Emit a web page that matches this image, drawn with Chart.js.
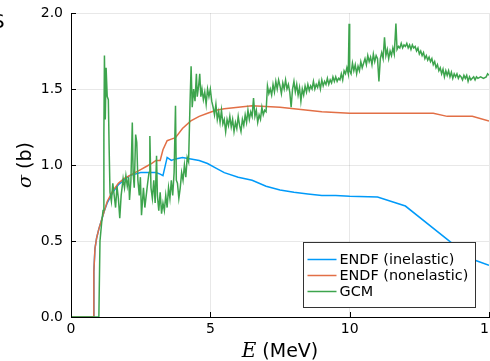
<!DOCTYPE html>
<html>
<head>
<meta charset="utf-8">
<script src="https://cdn.jsdelivr.net/npm/chart.js@4"></script>
<style>
  html, body { margin: 0; padding: 0; background: #fff; overflow: hidden; }
  #wrap { width: 490px; height: 361px; }
</style>
</head>
<body>
<div id="wrap"><canvas id="chart" width="490" height="361"></canvas></div>
<script>
// ENDF inelastic cross section (b) vs energy (MeV)
const inelasticEnergy = [0, 0.8, 0.82, 0.86, 0.92, 1.0, 1.1, 1.2, 1.3, 1.5, 1.7, 1.9, 2.1, 2.3, 2.5, 2.7, 2.9, 3.05, 3.2, 3.3, 3.45, 3.6, 3.75, 4.0, 4.3, 4.6, 4.9, 5.2, 5.5, 6.0, 6.5, 7.0, 7.5, 8.0, 8.5, 9.0, 9.5, 10, 11, 12, 14.4, 15];
const inelasticSigma  = [0, 0, 0.3, 0.45, 0.52, 0.58, 0.64, 0.7, 0.75, 0.82, 0.87, 0.9, 0.93, 0.94, 0.95, 0.95, 0.95, 0.95, 0.94, 0.93, 1.05, 1.03, 1.04, 1.05, 1.04, 1.03, 1.01, 0.98, 0.95, 0.92, 0.9, 0.86, 0.835, 0.82, 0.81, 0.8, 0.8, 0.795, 0.79, 0.73, 0.38, 0.34];

// ENDF nonelastic
const nonelasticEnergy = [0, 0.8, 0.82, 0.86, 0.92, 1.0, 1.1, 1.2, 1.3, 1.5, 1.7, 1.9, 2.1, 2.3, 2.5, 2.7, 2.9, 3.05, 3.2, 3.3, 3.45, 3.6, 3.75, 4.0, 4.3, 4.6, 4.9, 5.2, 5.5, 6.0, 6.5, 7.0, 7.5, 8.0, 8.5, 9.0, 9.5, 10, 11, 12, 13, 13.5, 14.4, 15];
const nonelasticSigma  = [0, 0, 0.3, 0.45, 0.52, 0.58, 0.64, 0.7, 0.76, 0.83, 0.88, 0.91, 0.93, 0.95, 0.97, 0.99, 1.01, 1.03, 1.03, 1.1, 1.16, 1.17, 1.18, 1.24, 1.29, 1.32, 1.34, 1.36, 1.37, 1.38, 1.39, 1.385, 1.38, 1.37, 1.36, 1.35, 1.345, 1.34, 1.34, 1.34, 1.34, 1.32, 1.32, 1.29];

// GCM calculation, [E, sigma]
const gcmPoints = [
  [0, 0], [1.0, 0], [1.04, 0.5], [1.1, 0.62], [1.15, 0.7], [1.18, 1.2], [1.2, 1.72], [1.23, 1.3], [1.26, 1.64], [1.3, 1.45],
  [1.34, 1.43], [1.37, 1.1], [1.4, 0.82], [1.45, 0.76], [1.5, 0.88], [1.55, 0.8], [1.6, 0.72], [1.65, 0.86], [1.7, 0.78], [1.75, 0.65],
  [1.8, 0.8], [1.87, 0.91], [1.92, 0.85], [1.97, 0.93], [2.02, 0.86], [2.07, 0.92], [2.1, 0.77], [2.15, 0.9], [2.2, 1.28], [2.23, 0.95],
  [2.27, 0.85], [2.32, 1.2], [2.36, 1.15], [2.4, 0.9], [2.45, 0.8], [2.49, 0.92], [2.53, 0.67], [2.6, 0.85], [2.65, 0.72], [2.7, 0.8],
  [2.75, 0.88], [2.8, 0.95], [2.83, 1.19], [2.87, 0.85], [2.92, 0.78], [2.97, 0.9], [3.02, 0.75], [3.07, 1.06], [3.1, 0.8], [3.15, 0.7],
  [3.2, 0.82], [3.25, 0.68], [3.3, 0.75], [3.35, 0.7], [3.4, 0.8], [3.45, 0.72], [3.5, 0.85], [3.55, 0.78], [3.6, 0.9], [3.65, 0.8],
  [3.7, 0.95], [3.75, 1.39], [3.78, 0.9], [3.82, 0.88], [3.87, 0.78], [3.92, 0.85], [3.97, 0.95], [4.02, 0.9], [4.07, 1.0], [4.12, 0.92],
  [4.17, 1.05], [4.22, 1.02], [4.27, 1.4], [4.31, 1.65], [4.35, 1.38], [4.4, 1.5], [4.45, 1.42], [4.5, 1.6], [4.53, 1.45], [4.58, 1.52],
  [4.62, 1.6], [4.66, 1.45], [4.7, 1.5], [4.75, 1.43], [4.8, 1.48], [4.85, 1.4], [4.9, 1.5], [4.95, 1.45], [5.0, 1.5], [5.05, 1.42],
  [5.1, 1.38], [5.15, 1.33], [5.2, 1.4], [5.25, 1.3], [5.3, 1.35], [5.35, 1.28], [5.4, 1.36], [5.45, 1.27], [5.5, 1.3], [5.55, 1.22],
  [5.6, 1.3], [5.65, 1.26], [5.7, 1.32], [5.75, 1.25], [5.8, 1.3], [5.85, 1.22], [5.9, 1.28], [5.95, 1.24], [6.0, 1.32], [6.05, 1.26],
  [6.1, 1.22], [6.15, 1.3], [6.2, 1.26], [6.25, 1.33], [6.3, 1.28], [6.35, 1.36], [6.4, 1.3], [6.45, 1.35], [6.5, 1.32], [6.55, 1.44],
  [6.6, 1.32], [6.65, 1.36], [6.7, 1.28], [6.75, 1.33], [6.8, 1.3], [6.85, 1.38], [6.9, 1.33], [6.95, 1.36], [7.0, 1.35], [7.05, 1.52],
  [7.1, 1.47], [7.15, 1.5], [7.2, 1.46], [7.25, 1.53], [7.3, 1.48], [7.35, 1.55], [7.4, 1.5], [7.45, 1.56], [7.5, 1.52], [7.55, 1.47],
  [7.6, 1.54], [7.65, 1.5], [7.7, 1.56], [7.75, 1.5], [7.8, 1.53], [7.85, 1.48], [7.9, 1.38], [7.95, 1.5], [8.0, 1.55], [8.05, 1.48],
  [8.1, 1.53], [8.15, 1.46], [8.2, 1.51], [8.25, 1.42], [8.3, 1.5], [8.35, 1.46], [8.4, 1.52], [8.45, 1.48], [8.5, 1.53], [8.55, 1.49],
  [8.6, 1.52], [8.65, 1.5], [8.7, 1.55], [8.75, 1.5], [8.8, 1.53], [8.85, 1.51], [8.9, 1.55], [8.95, 1.5], [9.0, 1.56], [9.05, 1.52],
  [9.1, 1.55], [9.15, 1.53], [9.2, 1.57], [9.25, 1.53], [9.3, 1.56], [9.35, 1.54], [9.4, 1.58], [9.45, 1.55], [9.5, 1.58], [9.55, 1.55],
  [9.6, 1.57], [9.65, 1.56], [9.7, 1.6], [9.75, 1.56], [9.8, 1.62], [9.85, 1.6], [9.9, 1.64], [9.95, 1.6], [9.98, 1.93], [10.0, 1.62],
  [10.05, 1.6], [10.1, 1.67], [10.15, 1.62], [10.2, 1.66], [10.25, 1.6], [10.3, 1.65], [10.35, 1.62], [10.4, 1.68], [10.45, 1.64], [10.5, 1.67],
  [10.55, 1.7], [10.6, 1.66], [10.65, 1.72], [10.7, 1.68], [10.75, 1.71], [10.8, 1.66], [10.85, 1.73], [10.9, 1.68], [10.95, 1.72], [11.0, 1.7],
  [11.05, 1.55], [11.1, 1.7], [11.15, 1.74], [11.2, 1.7], [11.25, 1.84], [11.3, 1.72], [11.35, 1.76], [11.4, 1.7], [11.45, 1.75], [11.5, 1.72],
  [11.55, 1.77], [11.6, 1.73], [11.66, 1.93], [11.7, 1.76], [11.75, 1.78], [11.8, 1.77], [11.85, 1.8], [11.9, 1.77], [11.95, 1.79], [12.0, 1.78],
  [12.05, 1.8], [12.1, 1.77], [12.15, 1.79], [12.2, 1.76], [12.25, 1.79], [12.3, 1.77], [12.35, 1.78], [12.4, 1.75], [12.45, 1.77], [12.5, 1.73],
  [12.55, 1.75], [12.6, 1.72], [12.65, 1.74], [12.7, 1.7], [12.75, 1.72], [12.8, 1.69], [12.85, 1.71], [12.9, 1.68], [12.95, 1.7], [13.0, 1.66],
  [13.05, 1.68], [13.1, 1.64], [13.15, 1.66], [13.2, 1.62], [13.25, 1.64], [13.3, 1.6], [13.35, 1.63], [13.4, 1.58], [13.45, 1.62], [13.5, 1.59],
  [13.55, 1.62], [13.6, 1.58], [13.65, 1.61], [13.7, 1.57], [13.75, 1.6], [13.8, 1.58], [13.85, 1.6], [13.9, 1.57], [13.95, 1.59], [14.0, 1.58],
  [14.05, 1.56], [14.1, 1.59], [14.15, 1.57], [14.2, 1.59], [14.25, 1.55], [14.3, 1.58], [14.35, 1.56], [14.4, 1.57], [14.45, 1.58], [14.5, 1.56],
  [14.55, 1.58], [14.6, 1.57], [14.7, 1.58], [14.8, 1.57], [14.9, 1.58], [14.95, 1.6], [15.0, 1.59]
];

const seriesLabels = ['ENDF (inelastic)', 'ENDF (nonelastic)', 'GCM'];
const seriesColors = ['#009af9', '#e26f46', '#3da44d'];
const xTicks = [0, 5, 10, 15];
const yTicks = [0, 0.5, 1.0, 1.5, 2.0];

const TICK_FONT = 'DejaVu Sans';

function toPoints(xs, ys) {
  return xs.map((x, i) => ({ x, y: ys[i] }));
}

// inward ticks, framed legend, axis titles (plot-style)
const decorPlugin = {
  id: 'decor',
  afterDraw(chart) {
    const ctx = chart.ctx;
    const area = chart.chartArea;
    const xs = chart.scales.x;
    const ys = chart.scales.y;

    ctx.save();
    ctx.strokeStyle = '#000';
    ctx.lineWidth = 1;
    ctx.beginPath();
    yTicks.forEach(v => {
      const py = Math.round(ys.getPixelForValue(v)) + 0.5;
      ctx.moveTo(area.left, py);
      ctx.lineTo(area.left + 5, py);
    });
    xTicks.forEach(v => {
      const px = Math.round(xs.getPixelForValue(v)) + 0.5;
      ctx.moveTo(px, area.bottom);
      ctx.lineTo(px, area.bottom - 5);
    });
    ctx.stroke();

    // legend
    const boxW = 172, boxH = 65;
    const bx = Math.round(area.right - 14 - boxW) + 0.5;
    const by = Math.round(area.bottom - 10 - boxH) + 0.5;
    ctx.fillStyle = '#fff';
    ctx.fillRect(bx, by, boxW, boxH);
    ctx.strokeStyle = '#333';
    ctx.strokeRect(bx, by, boxW, boxH);
    ctx.font = '14.4px "' + TICK_FONT + '"';
    ctx.textBaseline = 'middle';
    ctx.textAlign = 'left';
    seriesLabels.forEach((label, i) => {
      const ly = by + 17 + i * 16;
      ctx.strokeStyle = seriesColors[i];
      ctx.lineWidth = 1.5;
      ctx.beginPath();
      ctx.moveTo(bx + 4, ly);
      ctx.lineTo(bx + 33, ly);
      ctx.stroke();
      ctx.fillStyle = '#000';
      ctx.fillText(label, bx + 36, ly + 1);
    });

    // x title: italic E (MeV)
    ctx.fillStyle = '#000';
    ctx.textBaseline = 'alphabetic';
    const fE = 'italic 20px "DejaVu Serif"';
    const fRest = '19px "' + TICK_FONT + '"';
    ctx.font = fE;
    const wE = ctx.measureText('E').width;
    ctx.font = fRest;
    const wR = ctx.measureText(' (MeV)').width;
    let cx = (area.left + area.right) / 2 - (wE + wR) / 2;
    ctx.font = fE;
    ctx.fillText('E', cx, 357);
    ctx.font = fRest;
    ctx.fillText(' (MeV)', cx + wE, 357);

    // y title: σ (b)
    ctx.translate(31, (area.top + area.bottom) / 2);
    ctx.rotate(-Math.PI / 2);
    const fS = 'italic 19px "DejaVu Serif"';
    ctx.font = fS;
    const wS = ctx.measureText('σ').width;
    ctx.font = fRest;
    const wB = ctx.measureText(' (b)').width;
    let cy = -(wS + wB) / 2;
    ctx.font = fS;
    ctx.fillText('σ', cy, 0);
    ctx.font = fRest;
    ctx.fillText(' (b)', cy + wS, 0);
    ctx.restore();

    // clipped panel mark at the top-left corner
    ctx.save();
    ctx.fillStyle = '#000';
    ctx.font = '20px "' + TICK_FONT + '"';
    ctx.textBaseline = 'alphabetic';
    ctx.fillText('S', -8, 28);
    ctx.restore();
  }
};

const ctx = document.getElementById('chart').getContext('2d');
new Chart(ctx, {
  type: 'line',
  data: {
    datasets: [
      {
        label: seriesLabels[0],
        data: toPoints(inelasticEnergy, inelasticSigma),
        borderColor: seriesColors[0],
        order: 2,
      },
      {
        label: seriesLabels[1],
        data: toPoints(nonelasticEnergy, nonelasticSigma),
        borderColor: seriesColors[1],
        order: 1,
      },
      {
        label: seriesLabels[2],
        data: gcmPoints.map(p => ({ x: p[0], y: p[1] })),
        borderColor: seriesColors[2],
        order: 0,
      }
    ]
  },
  options: {
    responsive: false,
    animation: false,
    devicePixelRatio: 1,
    elements: {
      line: { borderWidth: 1.5, tension: 0, fill: false },
      point: { radius: 0 }
    },
    layout: { padding: { left: 0, right: 1, top: 13, bottom: 0 } },
    scales: {
      x: {
        type: 'linear',
        min: 0,
        max: 15,
        afterBuildTicks(scale) { scale.ticks = xTicks.map(v => ({ value: v })); },
        afterFit(scale) { scale.height = 44; scale.paddingLeft = 0; scale.paddingRight = 0; },
        ticks: {
          font: { family: TICK_FONT, size: 14 },
          color: '#000',
          padding: 4,
          maxRotation: 0,
          callback: v => String(v)
        },
        grid: { color: 'rgba(0,0,0,0.09)', drawTicks: false },
        border: { display: true, color: '#000', width: 1 }
      },
      y: {
        min: 0,
        max: 2,
        afterBuildTicks(scale) { scale.ticks = yTicks.map(v => ({ value: v })); },
        afterFit(scale) { scale.width = 71; scale.paddingTop = 0; scale.paddingBottom = 0; },
        ticks: {
          font: { family: TICK_FONT, size: 14 },
          color: '#000',
          padding: 8,
          callback: v => Number(v).toFixed(1)
        },
        grid: { color: 'rgba(0,0,0,0.09)', drawTicks: false },
        border: { display: true, color: '#000', width: 1 }
      }
    },
    plugins: {
      legend: { display: false },
      tooltip: { enabled: false }
    }
  },
  plugins: [decorPlugin]
});
</script>
</body>
</html>
